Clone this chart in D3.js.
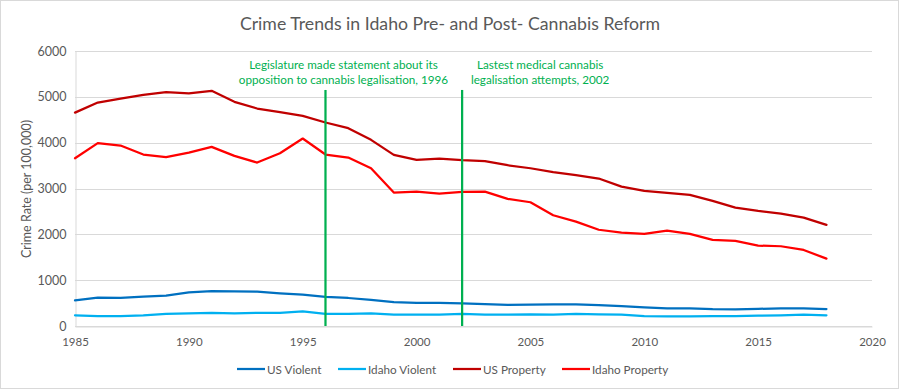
<!DOCTYPE html>
<html lang="en">
<head>
  <meta charset="UTF-8">
  <title>Crime Trends in Idaho Pre- and Post- Cannabis Reform</title>
  <script src="https://d3js.org/d3.v7.min.js"></script>
  <style>
    body {
      margin: 0;
      padding: 0;
      background: #ffffff;
    }
    svg {
      display: block;
      font-family: 'Lato', 'Open Sans', sans-serif;
    }
  </style>
</head>
<body>
  <svg id="chart" width="900" height="390"></svg>

  <script>
    // years 1985..2018
    const years = [1985, 1986, 1987, 1988, 1989, 1990, 1991, 1992, 1993, 1994,
                   1995, 1996, 1997, 1998, 1999, 2000, 2001, 2002, 2003, 2004,
                   2005, 2006, 2007, 2008, 2009, 2010, 2011, 2012, 2013, 2014,
                   2015, 2016, 2017, 2018];

    const usViolent = [560, 620, 612, 640, 665, 735, 760, 757, 748, 714,
                       685, 637, 611, 568, 523, 507, 504, 494, 476, 463,
                       469, 474, 472, 458, 431, 404, 387, 387, 369, 362,
                       373, 387, 383, 369];

    const idahoViolent = [233, 218, 218, 233, 262, 273, 286, 273, 286, 286,
                          320, 262, 262, 275, 247, 247, 247, 262, 247, 247,
                          255, 247, 262, 255, 247, 218, 211, 211, 218, 218,
                          226, 233, 247, 233];

    const usProperty = [4655, 4876, 4963, 5044, 5102, 5073, 5131, 4891, 4745, 4666,
                        4585, 4440, 4316, 4061, 3734, 3624, 3653, 3617, 3595, 3508,
                        3442, 3355, 3290, 3217, 3042, 2948, 2904, 2860, 2729, 2583,
                        2511, 2452, 2365, 2205];

    const idahoProperty = [3661, 3989, 3937, 3741, 3683, 3784, 3908, 3712, 3566, 3770,
                           4090, 3741, 3676, 3442, 2911, 2933, 2889, 2926, 2933, 2773,
                           2700, 2416, 2278, 2100, 2038, 2009, 2082, 2009, 1878, 1856,
                           1754, 1740, 1659, 1470];

    const seriesNames = ["US Violent", "Idaho Violent", "US Property", "Idaho Property"];
    const seriesColors = ["#0070c0", "#00b0f0", "#c00000", "#ff0000"];
    const seriesValues = [usViolent, idahoViolent, usProperty, idahoProperty];

    const yTicks = [0, 1000, 2000, 3000, 4000, 5000, 6000];
    const xTicks = [1985, 1990, 1995, 2000, 2005, 2010, 2015, 2020];

    // annotation markers
    const markerYears = [1996, 2002];
    const markerTop = 5150;
    const markerText = [
      ["Legislature made statement about its", "opposition to cannabis legalisation, 1996"],
      ["Lastest medical cannabis", "legalisation attempts, 2002"]
    ];

    const svg = d3.select("#chart");
    const grey = "#595959";
    const gridColor = "#d9d9d9";
    const green = "#00b050";

    // outer border
    svg.append("rect")
       .attr("x", 0.5).attr("y", 0.5)
       .attr("width", 898).attr("height", 388)
       .attr("fill", "#fff")
       .attr("stroke", gridColor);

    const x = d3.scaleLinear().domain([1985, 2020]).range([75, 872]);
    const y = d3.scaleLinear().domain([0, 6000]).range([326, 51]);

    // title
    svg.append("text")
       .attr("x", 450).attr("y", 30)
       .attr("text-anchor", "middle")
       .style("font-size", "17.7px")
       .style("fill", grey)
       .text("Crime Trends in Idaho Pre- and Post- Cannabis Reform");

    // gridlines
    svg.append("g")
       .selectAll("line")
       .data(yTicks)
       .enter()
       .append("line")
       .attr("x1", x(1985)).attr("x2", x(2020))
       .attr("y1", d => Math.round(y(d)) + 0.5)
       .attr("y2", d => Math.round(y(d)) + 0.5)
       .style("stroke", gridColor)
       .style("stroke-width", 1);

    // y axis
    const yAxis = svg.append("g")
       .attr("transform", `translate(${Math.round(x(1985)) + 0.5},0)`)
       .call(d3.axisLeft(y).tickValues(yTicks).tickSize(0).tickPadding(9).tickFormat(d3.format("d")));
    yAxis.select(".domain").style("stroke", gridColor);
    yAxis.selectAll("text")
       .style("font-size", "12.5px")
       .style("fill", grey)
       .style("font-family", "'Lato', 'Open Sans', sans-serif");

    // x axis
    const xAxis = svg.append("g")
       .attr("transform", `translate(0,${Math.round(y(0)) + 0.5})`)
       .call(d3.axisBottom(x).tickValues(xTicks).tickSize(0).tickPadding(11).tickFormat(d3.format("d")));
    xAxis.select(".domain").style("stroke", gridColor);
    xAxis.selectAll("text")
       .style("font-size", "11.5px")
       .style("fill", grey)
       .style("font-family", "'Lato', 'Open Sans', sans-serif");

    // y axis title
    svg.append("text")
       .attr("transform", "translate(31,189) rotate(-90)")
       .attr("text-anchor", "middle")
       .style("font-size", "12.5px")
       .style("fill", grey)
       .text("Crime Rate (per 100,000)");

    // series lines
    const line = d3.line()
       .x((d, i) => x(years[i]))
       .y(d => y(d));

    svg.append("g")
       .selectAll("path")
       .data(seriesValues)
       .enter()
       .append("path")
       .attr("d", d => line(d))
       .attr("fill", "none")
       .attr("stroke", (d, i) => seriesColors[i])
       .attr("stroke-width", 2.25)
       .attr("stroke-linejoin", "round")
       .attr("stroke-linecap", "round");

    // annotation markers
    svg.append("g")
       .selectAll("line")
       .data(markerYears)
       .enter()
       .append("line")
       .attr("x1", d => x(d)).attr("x2", d => x(d))
       .attr("y1", y(markerTop)).attr("y2", y(0))
       .style("stroke", green)
       .style("stroke-width", 2.25);

    const notes = svg.append("g")
       .selectAll("text")
       .data(markerYears)
       .enter()
       .append("text")
       .attr("text-anchor", "middle")
       .style("font-size", "11.7px")
       .style("fill", green);

    notes.each(function(d, i) {
      const t = d3.select(this);
      const cx = i === 0 ? x(d) + 18 : x(d) + 78;
      markerText[i].forEach((s, k) => {
        t.append("tspan")
         .attr("x", cx)
         .attr("y", 69 + k * 15)
         .text(s);
      });
    });

    // legend
    const legendX = [237, 338, 453, 562];
    const legend = svg.append("g")
       .selectAll("g")
       .data(seriesNames)
       .enter()
       .append("g")
       .attr("transform", (d, i) => `translate(${legendX[i]},369)`);

    legend.append("line")
       .attr("x1", 0).attr("x2", 28)
       .attr("y1", 0).attr("y2", 0)
       .style("stroke", (d, i) => seriesColors[i])
       .style("stroke-width", 2.25);

    legend.append("text")
       .attr("x", 30)
       .attr("y", 4.5)
       .style("font-size", "11.7px")
       .style("fill", grey)
       .text(d => d);
  </script>
</body>
</html>
